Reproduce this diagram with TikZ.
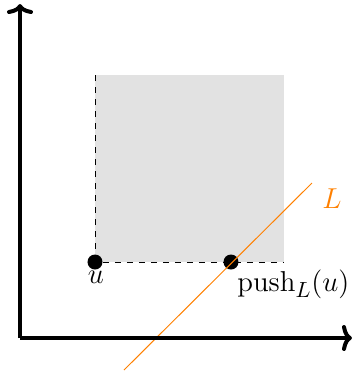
\documentclass[tikz,border=0pt]{standalone}
\usetikzlibrary{arrows.meta}
\definecolor{boxgray}{RGB}{226,226,226}
\definecolor{lineorange}{RGB}{255,128,0}
\begin{document}
\begin{tikzpicture}[x=0.5pt,y=-0.5pt,
  axis/.style={line width=2pt,-{To[length=5pt,width=13pt]}},
  dot/.style={circle,fill=black,inner sep=0pt,minimum size=7.5pt},
  edge/.style={dashed,line width=0.4pt},
  lline/.style={lineorange,line width=0.5pt},
  lab/.style={font=\fontsize{15}{18}\selectfont,inner sep=0pt}]
\useasboundingbox (0,0) rectangle (354,377);
\coordinate (O) at (20,338);
\coordinate (ytop) at (20,4);
\coordinate (xend) at (352,338);
\coordinate (tl) at (95,75);
\coordinate (br) at (284,262);
\fill[boxgray] (tl) rectangle (br);
\node[dot] (u) at (95,262) {};
\node[dot] (p) at (231,262) {};
\draw[edge] (tl) -- (u) -- (br);
\coordinate (la) at (124,370);
\coordinate (lb) at (312,183);
\draw[lline] (la) -- (lb);
\draw[axis] (O) -- (ytop);
\draw[axis] (O) -- (xend);
\node[lab,anchor=base] (ulab) at (96,283) {$u$};
\node[lab,anchor=base west] (plab) at (237,291) {$\mathrm{push}_L(u)$};
\node[lab,anchor=base,text=lineorange] (llab) at (332,208) {$L$};
\end{tikzpicture}
\end{document}
